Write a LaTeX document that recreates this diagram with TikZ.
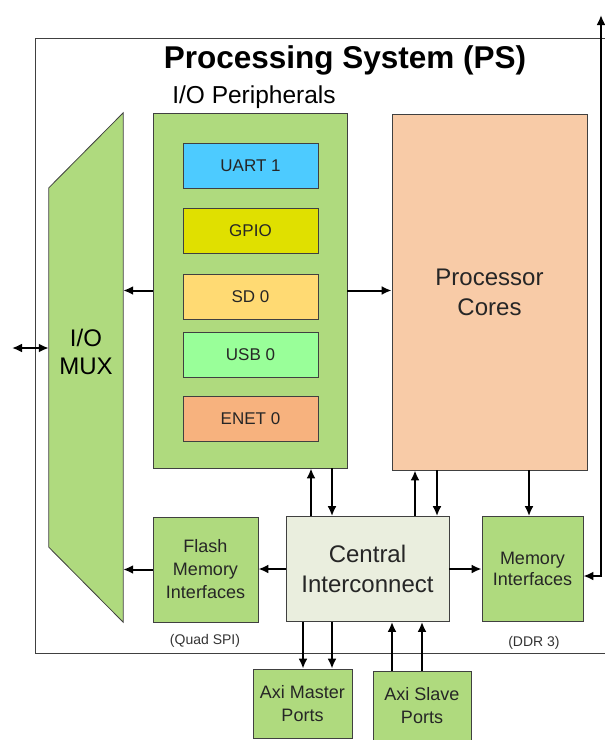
\documentclass[tikz,border=0pt]{standalone}
\usepackage{fontspec}
\setmainfont{Liberation Sans}
\usepackage{tikz}
\usetikzlibrary{arrows,arrows.meta,shapes,positioning,calc}

\definecolor{psgreen}{RGB}{175,218,126}
\definecolor{uartblue}{RGB}{77,203,255}
\definecolor{gpioyellow}{RGB}{224,224,0}
\definecolor{sdyellow}{RGB}{255,218,115}
\definecolor{usbgreen}{RGB}{153,255,153}
\definecolor{enetorange}{RGB}{247,178,126}
\definecolor{corepeach}{RGB}{248,203,167}
\definecolor{icgray}{RGB}{234,238,222}

\tikzset{
  basic/.style  = {draw=black!75, line width=0.8pt, rectangle, align=center,
                   inner sep=0pt, text=black!85},
  block/.style  = {basic, fill=psgreen, font=\fontsize{18}{23}\selectfont},
  periph/.style = {basic, minimum width=135pt, minimum height=45pt,
                   font=\fontsize{17}{20}\selectfont},
  big/.style    = {basic, font=\fontsize{24}{30}\selectfont},
  note/.style   = {font=\fontsize{14}{16}\selectfont, text=black!80},
  link/.style   = {->, draw, line width=2pt}
}

\begin{document}
\begin{tikzpicture}[x=1pt, y=-1pt, >={Latex[length=10pt,width=9pt]}]
\clip (0,0) rectangle (605,740);

% the PS frame, its right side runs off the page
\draw[black!75, line width=0.8pt] (35,38) rectangle (620,653);
\node[font=\bfseries\fontsize{31.5}{36}\selectfont] (title) at (345,60) {Processing System (PS)};
\node[font=\fontsize{24.5}{28}\selectfont] (iolabel) at (254,97) {I/O Peripherals};

% I/O mux, a slanted block
\node[minimum width=74pt, minimum height=509pt, inner sep=0pt] (mux) at (86,367.5) {};
\filldraw[fill=psgreen, draw=black!75, line width=0.8pt]
  (mux.north east) -- (mux.south east) -- ($(mux.south west)+(0,-75)$)
  -- ($(mux.north west)+(0,75)$) -- cycle;
\node[font=\fontsize{24}{28}\selectfont, align=center] (muxtext) at ($(mux)+(0,-16)$) {I/O\\MUX};

% peripherals block and its controllers
\node[block, minimum width=194pt, minimum height=355pt] (p) at (250,290.5) {};
\foreach \name/\col/\ypos/\txt in {uart/uartblue/165.5/UART 1, gpio/gpioyellow/231/GPIO,
    sd/sdyellow/296.5/SD 0, usb/usbgreen/355/USB 0, enet/enetorange/419/ENET 0}
  \node[periph, fill=\col] (\name) at (250.5,\ypos) {\txt};

% cores, interconnect and memory
\node[big, fill=corepeach, minimum width=195pt, minimum height=356pt] (proc) at (489.5,292) {Processor\\Cores};
\node[block, minimum width=105pt, minimum height=105pt] (flash) at (205.5,569.5) {Flash\\Memory\\Interfaces};
\node[big, fill=icgray, minimum width=163pt, minimum height=105pt] (central) at (367.5,569) {Central\\Interconnect};
\node[block, minimum width=101pt, minimum height=105pt,
      font=\fontsize{18}{21}\selectfont] (memif) at (532.5,569) {Memory\\Interfaces};
\node[note] (qspi) at (205,641) {(Quad SPI)};
\node[note] (ddr) at (534,643) {(DDR 3)};

% AXI ports below the frame
\node[block, minimum width=99pt, minimum height=69pt] (master) at (302.5,703.5) {Axi Master\\Ports};
\node[block, minimum width=98pt, minimum height=69pt] (slave) at (422,705.5) {Axi Slave\\Ports};

% horizontal links
\draw[link] (p.west) -- (p.west -| mux.east);
\draw[link] (flash.west) -- (flash.west -| mux.east);
\draw[link] (central.west) -- (central.west -| flash.east);
\draw[link] (p.east) -- (p.east -| proc.west);
\draw[link] (central.east) -- (central.east -| memif.west);

% vertical links
\draw[link] (central.north -| 311,0) -- (p.south -| 311,0);
\draw[link] (p.south -| 332,0) -- (central.north -| 332,0);
\draw[link] (central.north -| 415,0) -- (proc.south -| 415,0);
\draw[link] (proc.south -| 437,0) -- (central.north -| 437,0);
\draw[link] (proc.south -| 529,0) -- (memif.north -| 529,0);
\foreach \x in {303,332}
  \draw[link] (central.south -| \x,0) -- (master.north -| \x,0);
\foreach \x in {392,422}
  \draw[link] (slave.north -| \x,0) -- (central.south -| \x,0);

% lines leaving the system
\coordinate (ext) at (12,348);
\coordinate (up) at (601,15);
\draw[<->, line width=2pt] (ext) -- (ext -| mux.west);
\draw[<->, line width=2pt] (up) |- ([yshift=-7pt]memif.east);

\end{tikzpicture}
\end{document}
